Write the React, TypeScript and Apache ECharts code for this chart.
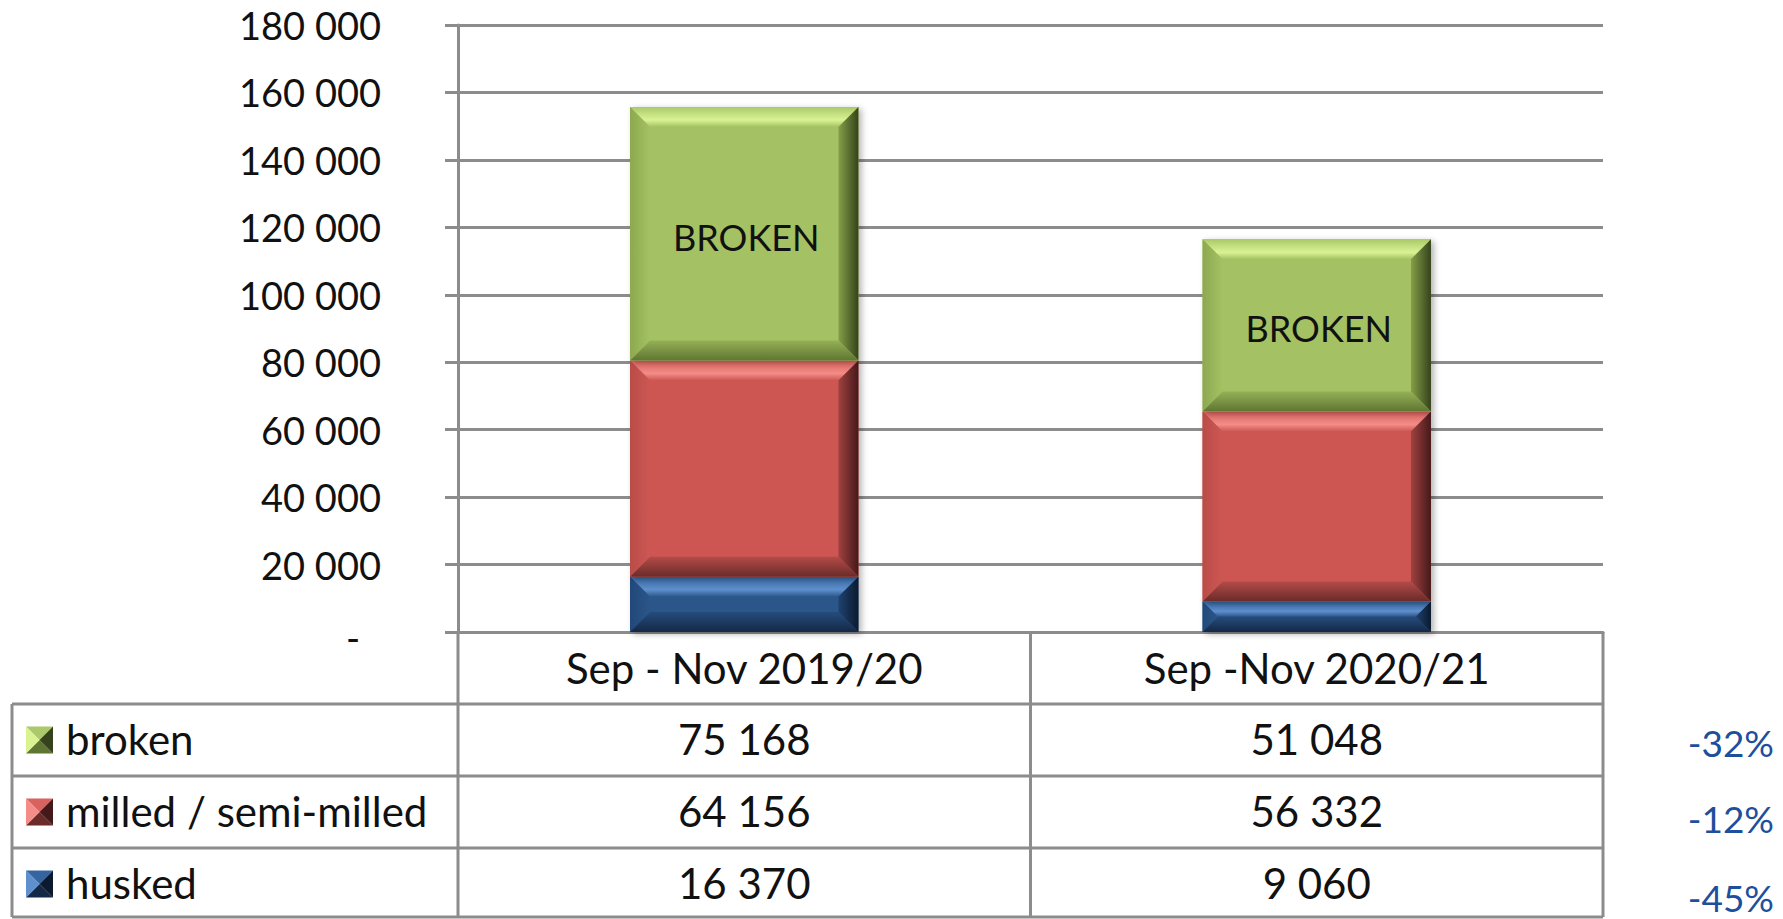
import React, { useEffect, useRef } from 'react';
import * as echarts from 'echarts';

// ---------- DATA ----------
const categories = ['Sep - Nov 2019/20', 'Sep -Nov 2020/21'];
const husked = [16370, 9060];
const milled = [64156, 56332];
const broken = [75168, 51048];
const seriesNames = ['husked', 'milled / semi-milled', 'broken']; // bottom to top of stack
const barLabel = 'BROKEN';
const yMin = 0;
const yMax = 180000;
const yInterval = 20000;

// ---------- STYLE / LAYOUT ----------
const FONT = 'Lato, "Open Sans", sans-serif';
const AXIS_FS = 38;
const TABLE_FS = 42;
const PCT_FS = 37;
const LABEL_FS = 36;
const GRID_L = 458;
const GRID_RX = 1603;
const GRID_T = 25;
const GRID_BY = 632;
const ROW_Y = [632, 704, 776, 848, 917];
const TABLE_L = 12;
const GRID_COLOR = '#8c8c8c';
const PCT_COLOR = '#1d4f9c';
const PCT_Y = [742, 818, 897];
const BAR_RATIO = 0.399;
const BEVEL = 20;

type Pal = { face: string; hi: string; top0: string; left0: string; rIn: string; rOut: string; bIn: string; bOut: string };
const palettes: Pal[] = [
  { face: '#2B5689', hi: '#5E90CD', top0: '#3565A0', left0: '#21487a', rIn: '#1f4270', rOut: '#0b1a2e', bIn: '#264c7c', bOut: '#142847' },
  { face: '#CD5753', hi: '#F48C87', top0: '#D8625E', left0: '#b94c48', rIn: '#a0423f', rOut: '#45191a', bIn: '#b44b48', bOut: '#6a2b29' },
  { face: '#A4C263', hi: '#D9F393', top0: '#ABC96A', left0: '#8da84f', rIn: '#849f48', rOut: '#35421b', bIn: '#95b156', bOut: '#5f7532' },
];

const fmt = (n: number) => String(n).replace(/\B(?=(\d{3})+(?!\d))/g, ' ');

const lg = (x2: number, y2: number, c0: string, c1: string, mid?: [number, string]) =>
  new echarts.graphic.LinearGradient(0, 0, x2, y2, mid
    ? [{ offset: 0, color: c0 }, { offset: mid[0], color: mid[1] }, { offset: 1, color: c1 }]
    : [{ offset: 0, color: c0 }, { offset: 1, color: c1 }]);

function makeRender(pal: Pal, label?: string) {
  return (params: any, api: any) => {
    const cat = api.value(0);
    const lo = api.value(1);
    const hi = api.value(2);
    const pT = api.coord([cat, hi]);
    const pB = api.coord([cat, lo]);
    const bw = api.size([1, 0])[0] * BAR_RATIO;
    const L = pT[0] - bw / 2;
    const R = pT[0] + bw / 2;
    const T = pT[1];
    const B = pB[1];
    const h = B - T;
    const b = Math.min(BEVEL, h / 2, bw / 2);
    const children: any[] = [
      {
        type: 'rect',
        shape: { x: L, y: T, width: bw, height: h },
        style: { fill: pal.face, shadowBlur: 6, shadowColor: 'rgba(0,0,0,0.3)', shadowOffsetX: 3, shadowOffsetY: 2 },
      },
      {
        type: 'polygon',
        shape: { points: [[L, T], [R, T], [R - b, T + b], [L + b, T + b]] },
        style: { fill: lg(0, 1, pal.top0, pal.face, [0.65, pal.hi]) },
      },
      {
        type: 'polygon',
        shape: { points: [[L, T], [L + b, T + b], [L + b, B - b], [L, B]] },
        style: { fill: lg(1, 0, pal.left0, pal.face) },
      },
      {
        type: 'polygon',
        shape: { points: [[R, T], [R, B], [R - b, B - b], [R - b, T + b]] },
        style: { fill: lg(1, 0, pal.rIn, pal.rOut) },
      },
      {
        type: 'polygon',
        shape: { points: [[L, B], [R, B], [R - b, B - b], [L + b, B - b]] },
        style: { fill: lg(0, 1, pal.bIn, pal.bOut) },
      },
    ];
    if (label) {
      children.push({
        type: 'text',
        style: {
          text: label,
          x: pT[0] + 2,
          y: (T + B) / 2 + 3,
          align: 'center',
          verticalAlign: 'middle',
          fontFamily: FONT,
          fontSize: LABEL_FS,
          fill: '#111',
        },
      });
    }
    return { type: 'group', children };
  };
}

export default function App() {
  const ref = useRef<HTMLDivElement>(null);
  useEffect(() => {
    if (!ref.current) return;
    const chart = echarts.init(ref.current, undefined, { renderer: 'svg' });

    const stackValues = [husked, milled, broken];
    const bases = categories.map(() => 0);
    const series: any[] = stackValues.map((vals, si) => {
      const data = vals.map((v, ci) => {
        const lo = bases[ci];
        bases[ci] += v;
        return [ci, lo, lo + v];
      });
      return {
        type: 'custom',
        name: seriesNames[si],
        data,
        encode: { x: 0, y: [1, 2] },
        renderItem: makeRender(palettes[si], si === 2 ? barLabel : undefined),
        z: 3,
      };
    });

    // ---- data table (graphic) ----
    const line = { stroke: GRID_COLOR, lineWidth: 3 };
    const midX = (GRID_L + GRID_RX) / 2;
    const colCenters = [(GRID_L + midX) / 2, (midX + GRID_RX) / 2];
    const bottom = ROW_Y[ROW_Y.length - 1];
    const g: any[] = [];
    [GRID_L, midX, GRID_RX].forEach((x) =>
      g.push({ type: 'line', silent: true, shape: { x1: x, y1: GRID_BY, x2: x, y2: bottom }, style: line }));
    ROW_Y.slice(1).forEach((y) =>
      g.push({ type: 'line', silent: true, shape: { x1: TABLE_L, y1: y, x2: GRID_RX, y2: y }, style: line }));
    g.push({ type: 'line', silent: true, shape: { x1: TABLE_L, y1: ROW_Y[1], x2: TABLE_L, y2: bottom }, style: line });

    const rowOrder = [2, 1, 0]; // broken, milled, husked
    rowOrder.forEach((si, ri) => {
      const cy = (ROW_Y[ri + 1] + Math.min(ROW_Y[ri + 1] + 72, ROW_Y[ri + 2] + 3)) / 2;
      const pal = palettes[si];
      const s = 27;
      const x0 = 26;
      const y0 = cy - s / 2;
      const cx = x0 + s / 2;
      const ccy = y0 + s / 2;
      g.push({ type: 'polygon', silent: true, shape: { points: [[x0, y0], [x0 + s, y0], [cx, ccy]] }, style: { fill: pal.top0 } });
      g.push({ type: 'polygon', silent: true, shape: { points: [[x0, y0 + s], [x0 + s, y0 + s], [cx, ccy]] }, style: { fill: pal.bOut } });
      g.push({ type: 'polygon', silent: true, shape: { points: [[x0, y0], [x0, y0 + s], [cx, ccy]] }, style: { fill: pal.hi } });
      g.push({ type: 'polygon', silent: true, shape: { points: [[x0 + s, y0], [x0 + s, y0 + s], [cx, ccy]] }, style: { fill: pal.rOut } });
      g.push({
        type: 'text', silent: true,
        style: { text: seriesNames[si], x: 66, y: cy - 1, align: 'left', verticalAlign: 'middle', fontFamily: FONT, fontSize: TABLE_FS, fill: '#111' },
      });
      stackValues[si].forEach((v, ci) => {
        g.push({
          type: 'text', silent: true,
          style: { text: fmt(v), x: colCenters[ci], y: cy - 1, align: 'center', verticalAlign: 'middle', fontFamily: FONT, fontSize: TABLE_FS, fill: '#111' },
        });
      });
      const a = stackValues[si][0];
      const bb = stackValues[si][1];
      const pct = Math.round(((bb - a) / a) * 100);
      g.push({
        type: 'text', silent: true,
        style: { text: `${pct}%`, x: 1774, y: PCT_Y[ri], align: 'right', verticalAlign: 'middle', fontFamily: FONT, fontSize: PCT_FS, fill: PCT_COLOR },
      });
    });

    chart.setOption({
      animation: false,
      backgroundColor: '#ffffff',
      grid: {
        left: GRID_L,
        right: 1783 - GRID_RX,
        top: GRID_T,
        bottom: 919 - GRID_BY,
        containLabel: false,
        outerBoundsMode: 'none',
      },
      xAxis: {
        type: 'category',
        data: categories,
        axisTick: { show: false },
        axisLine: { show: true, lineStyle: { color: GRID_COLOR, width: 3 } },
        axisLabel: {
          margin: 14,
          fontFamily: FONT,
          fontSize: TABLE_FS,
          lineHeight: 44,
          color: '#111',
          interval: 0,
        },
        splitLine: { show: false },
      },
      yAxis: {
        type: 'value',
        min: yMin,
        max: yMax,
        interval: yInterval,
        axisLine: { show: true, lineStyle: { color: GRID_COLOR, width: 3 } },
        axisTick: { show: true, length: 13, lineStyle: { color: GRID_COLOR, width: 3 } },
        splitLine: { show: true, lineStyle: { color: GRID_COLOR, width: 3 } },
        axisLabel: {
          margin: 77,
          fontFamily: FONT,
          fontSize: AXIS_FS,
          color: '#111',
          formatter: (v: number) => (v === 0 ? '{z|-}' : fmt(v)),
          rich: {
            z: { fontFamily: FONT, fontSize: AXIS_FS, color: '#111', padding: [10, 21, 0, 0] },
          },
        },
      },
      series,
      graphic: g,
    });
    return () => chart.dispose();
  }, []);

  return (
    <div
      ref={ref}
      style={{ position: 'fixed', left: 0, top: 0, width: 1783, height: 919, background: '#fff' }}
    />
  );
}
